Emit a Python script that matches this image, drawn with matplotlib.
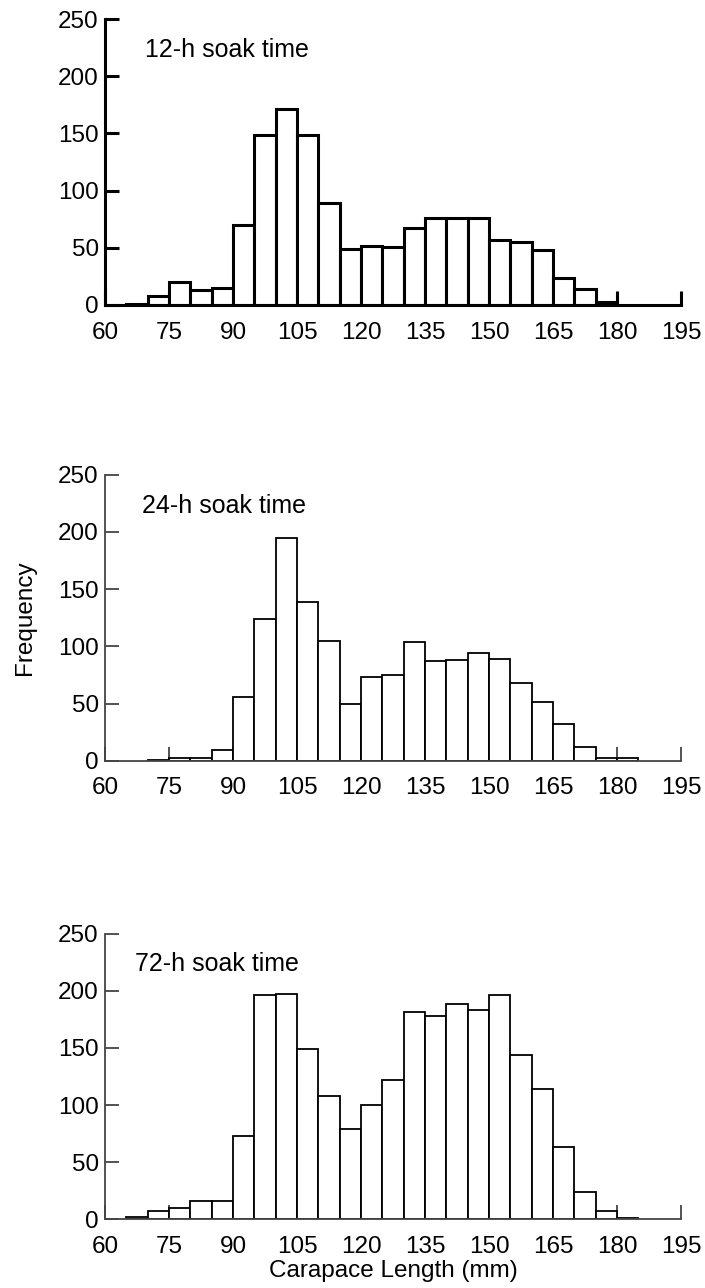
import numpy as np
import matplotlib
matplotlib.use("Agg")
import matplotlib.pyplot as plt

plt.rcParams['font.family'] = ['Liberation Sans', 'DejaVu Sans']

# bin edges, 5 mm wide
bin_edges = np.arange(60, 200, 5)
bin_left = bin_edges[:-1]

# counts per bin (60-65 ... 190-195)
counts_12h = [0, 1, 8, 20, 13, 15, 70, 149, 171, 149, 89, 49, 52, 51,
              67, 76, 76, 76, 57, 55, 48, 24, 14, 3, 0, 0, 0]
counts_24h = [0, 0, 1, 2, 2, 9, 56, 124, 195, 139, 105, 50, 73, 75,
              104, 87, 88, 94, 89, 68, 51, 32, 12, 2, 2, 0, 0]
counts_72h = [0, 2, 7, 10, 16, 16, 73, 196, 197, 149, 108, 79, 100, 122,
              181, 178, 188, 183, 196, 144, 114, 63, 24, 7, 1, 0, 0]

labels = ["12-h soak time", "24-h soak time", "72-h soak time"]
all_counts = [counts_12h, counts_24h, counts_72h]

x_ticks = np.arange(60, 196, 15)
y_ticks = np.arange(0, 251, 50)

fig = plt.figure(figsize=(7.05, 12.88), dpi=100)

# axes boxes: [left, bottom, width, height] in figure fractions
boxes = [
    [0.149, 0.7632, 0.817, 0.222],
    [0.149, 0.4094, 0.817, 0.222],
    [0.149, 0.0532, 0.817, 0.222],
]
line_w = [2.2, 1.3, 1.3]
spine_col = ['black', '#444444', '#444444']
title_x = [69.4, 68.6, 67.0]

for i in range(3):
    ax = fig.add_axes(boxes[i])
    c = np.array(all_counts[i])
    mask = c > 0
    ax.bar(bin_left[mask], c[mask], width=5, align='edge',
           facecolor='white', edgecolor='black', linewidth=line_w[i], zorder=2)
    ax.set_xlim(60, 195)
    ax.set_ylim(0, 250)
    ax.set_xticks(x_ticks)
    ax.set_yticks(y_ticks)
    ax.spines['top'].set_visible(False)
    ax.spines['right'].set_visible(False)
    for s in ['left', 'bottom']:
        ax.spines[s].set_linewidth(line_w[i])
        ax.spines[s].set_color(spine_col[i])
        ax.spines[s].set_zorder(3)
    ax.tick_params(direction='in', length=10, width=line_w[i],
                   color=spine_col[i], labelsize=17.5)
    ax.tick_params(axis='y', pad=4.5)
    ax.tick_params(axis='x', pad=12)
    for t in ax.xaxis.get_major_ticks():
        t.tick1line.set_zorder(1)
    ax.text(title_x[i], 217, labels[i], fontsize=18, ha='left', va='baseline')
    ax.set_facecolor('none')
    if i == 1:
        ax.set_ylabel("Frequency", fontsize=17.5, labelpad=16)
    if i == 2:
        ax.set_xlabel("Carapace Length (mm)", fontsize=17.5, labelpad=1)

fig.savefig("out.png", dpi=100)
